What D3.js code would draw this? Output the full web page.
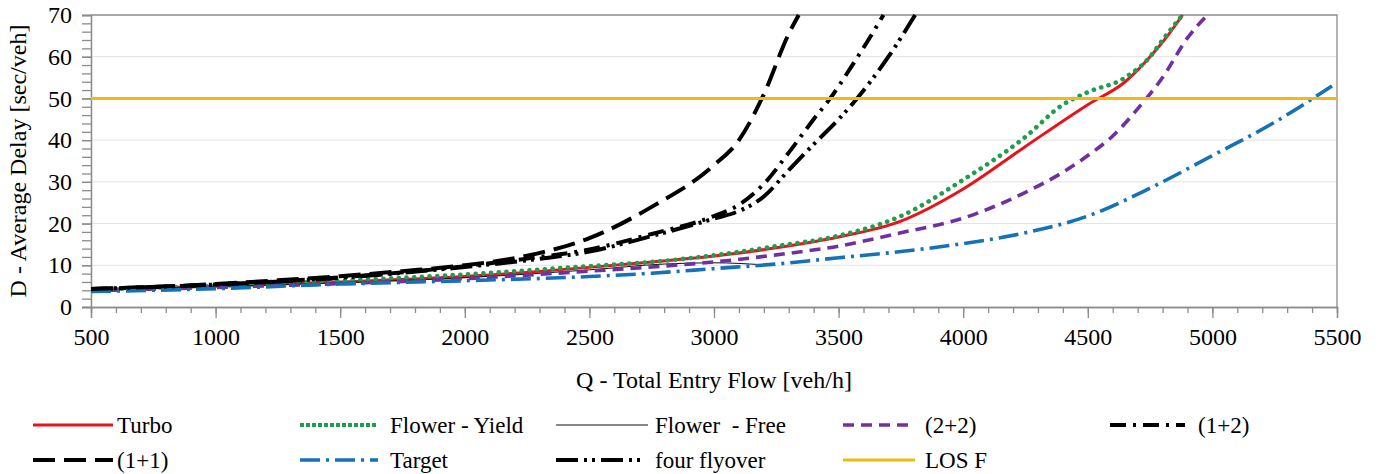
<!DOCTYPE html>
<html>
<head>
<meta charset="utf-8">
<script src="https://cdn.jsdelivr.net/npm/d3@7"></script>
<style>
  body { margin: 0; background: #fff; }
</style>
</head>
<body>
<div id="chart"></div>
<script>
// values
const turboQ = [500, 1000, 1500, 2000, 2500, 2750, 3000, 3250, 3500, 3750, 4000, 4250, 4500, 4650, 4750, 4820, 4880];
const turboD = [4.2, 5.0, 6.0, 7.3, 9.5, 10.8, 12.2, 14.2, 16.8, 20.6, 28.3, 38.5, 48.5, 54, 60, 65, 70];

const yieldQ = [500, 1000, 1500, 2000, 2500, 2750, 3000, 3250, 3500, 3750, 4000, 4250, 4400, 4500, 4650, 4750, 4800, 4880];
const yieldD = [4.2, 5.1, 6.3, 7.8, 9.8, 10.8, 12.4, 14.6, 17.1, 21.8, 30.5, 40.8, 48.5, 51.5, 55, 60, 64, 70];

const freeQ = [500, 1000, 1500, 2000, 2500, 2800, 3000, 3200];
const freeD = [4.1, 4.9, 5.8, 7.0, 8.9, 10.3, 10.6, 10.1];

const twoTwoQ = [500, 1000, 1500, 2000, 2500, 2750, 3000, 3250, 3500, 3750, 4000, 4250, 4400, 4500, 4600, 4700, 4800, 4900, 4980];
const twoTwoD = [3.9, 4.7, 5.6, 6.8, 8.6, 9.6, 10.8, 12.5, 14.6, 17.8, 21.3, 27.5, 32.3, 36.3, 41, 47.5, 55, 64.5, 70];

const oneTwoQ = [500, 1000, 1500, 2000, 2250, 2500, 2750, 3000, 3100, 3200, 3300, 3400, 3466, 3550, 3650, 3680];
const oneTwoD = [4.3, 5.4, 7.1, 9.8, 11.6, 13.8, 17.5, 21.8, 24.5, 29.5, 37, 45, 50, 57.5, 67, 70];

const oneOneQ = [500, 750, 1000, 1250, 1500, 1750, 2000, 2250, 2500, 2750, 3000, 3100, 3200, 3300, 3340];
const oneOneD = [4.3, 4.8, 5.5, 6.4, 7.4, 8.6, 10.0, 12.3, 16.5, 24.0, 34, 40, 51, 65.5, 70];

const targetQ = [500, 1000, 1500, 2000, 2500, 2750, 3000, 3250, 3500, 3750, 4000, 4250, 4500, 4750, 5000, 5250, 5480];
const targetD = [3.7, 4.4, 5.5, 6.3, 7.3, 8.1, 9.2, 10.3, 11.8, 13.3, 15.2, 17.8, 21.8, 28.5, 36.3, 44.3, 53];

const flyoverQ = [500, 1000, 1500, 2000, 2250, 2500, 2750, 3000, 3100, 3200, 3300, 3400, 3500, 3574, 3700, 3807];
const flyoverD = [4.3, 5.4, 7.0, 9.6, 11.2, 13.3, 17.0, 21.2, 23.0, 26.5, 32.8, 39, 45, 50, 60, 70];

const losQ = [500, 5500];
const losD = [50, 50];

const xTicks = [500, 1000, 1500, 2000, 2500, 3000, 3500, 4000, 4500, 5000, 5500];
const yTicks = [0, 10, 20, 30, 40, 50, 60, 70];

const width = 1381, height = 474;
const serif = "Liberation Serif, DejaVu Serif, Noto Serif, Times New Roman, Times, FreeSerif, Tinos, serif";

const svg = d3.select("#chart").append("svg")
  .attr("width", width)
  .attr("height", height)
  .style("font-family", serif);

const x = d3.scaleLinear().domain([500, 5500]).range([91, 1337]);
const y = d3.scaleLinear().domain([0, 70]).range([307, 15]);

// gridlines
svg.append("g")
  .selectAll("line")
  .data(yTicks.filter((d) => d > 0 && d < 70))
  .join("line")
  .attr("x1", x(500)).attr("x2", x(5500))
  .attr("y1", (d) => y(d)).attr("y2", (d) => y(d))
  .attr("stroke", "#e3e3e3").attr("stroke-width", 1);

// plot border top + right
svg.append("path")
  .attr("d", `M${x(500)},${y(70)}H${x(5500)}V${y(0)}`)
  .attr("fill", "none").attr("stroke", "#8c8c8c").attr("stroke-width", 1.3);

// x axis: minor then major ticks
const xAxisG = svg.append("g").attr("transform", `translate(0,${y(0)})`);
xAxisG.call(d3.axisBottom(x).tickValues(d3.range(500, 5501, 100)).tickSize(6).tickFormat(""));
xAxisG.call((g) => g.append("g").call(d3.axisBottom(x).tickValues(xTicks).tickSize(11).tickFormat(d3.format("d"))));
xAxisG.selectAll("path, line").attr("stroke", "#8c8c8c").attr("stroke-width", 1.3);
xAxisG.selectAll("text")
  .attr("y", 21)
  .style("font-size", "24px")
  .style("font-family", serif);

// y axis with minor ticks every 2
const yAxisG = svg.append("g").attr("transform", `translate(${x(500)},0)`);
yAxisG.call(d3.axisLeft(y).tickValues(d3.range(0, 71, 2)).tickSize(9).tickFormat(""));
yAxisG.call((g) => g.append("g").call(d3.axisLeft(y).tickValues(yTicks).tickSize(9).tickFormat(d3.format("d"))));
yAxisG.selectAll("path, line").attr("stroke", "#8c8c8c").attr("stroke-width", 1.3);
yAxisG.selectAll("text")
  .attr("x", -19)
  .style("font-size", "24px")
  .style("font-family", serif);

// axis titles
svg.append("text")
  .attr("x", (x(500) + x(5500)) / 2)
  .attr("y", 388)
  .attr("text-anchor", "middle")
  .style("font-size", "24px")
  .style("font-family", serif)
  .text("Q - Total Entry Flow [veh/h]");

svg.append("text")
  .attr("transform", `translate(26,${(y(0) + y(70)) / 2}) rotate(-90)`)
  .attr("text-anchor", "middle")
  .style("font-size", "24px")
  .style("font-family", serif)
  .text("D - Average Delay [sec/veh]");

// series styles
const series = [
  { name: "Turbo", q: turboQ, d: turboD, color: "#e8141b", w: 3, dash: null, cap: "butt" },
  { name: "Flower - Yield", q: yieldQ, d: yieldD, color: "#1f9e4f", w: 4.6, dash: "0.1 7.6", cap: "round" },
  { name: "Flower  - Free", q: freeQ, d: freeD, color: "#111", w: 1, dash: null, cap: "butt" },
  { name: "(2+2)", q: twoTwoQ, d: twoTwoD, color: "#7030a0", w: 3.6, dash: "11 7", cap: "butt" },
  { name: "(1+2)", q: oneTwoQ, d: oneTwoD, color: "#000", w: 4, dash: "16 7 3 7", cap: "butt" },
  { name: "(1+1)", q: oneOneQ, d: oneOneD, color: "#000", w: 4, dash: "22 9", cap: "butt" },
  { name: "Target", q: targetQ, d: targetD, color: "#1572b8", w: 3.6, dash: "20 6 3 6", cap: "butt" },
  { name: "four flyover", q: flyoverQ, d: flyoverD, color: "#000", w: 4, dash: "22 6 3 5 3 6", cap: "butt" },
  { name: "LOS F", q: losQ, d: losD, color: "#f2b90f", w: 3, dash: null, cap: "butt" },
];

svg.append("clipPath").attr("id", "plotClip")
  .append("rect")
  .attr("x", x(500)).attr("y", y(70) - 2)
  .attr("width", x(5500) - x(500) + 4).attr("height", y(0) - y(70) + 2);

const line = d3.line()
  .x((p) => x(p[0]))
  .y((p) => y(p[1]))
  .curve(d3.curveMonotoneX);

svg.append("g")
  .attr("clip-path", "url(#plotClip)")
  .selectAll("path")
  .data(series)
  .join("path")
  .attr("d", (s) => line(s.q.map((q, i) => [q, s.d[i]])))
  .attr("fill", "none")
  .attr("stroke", (s) => s.color)
  .attr("stroke-width", (s) => s.w)
  .attr("stroke-dasharray", (s) => s.dash)
  .attr("stroke-linecap", (s) => s.cap);

// legend (two rows)
const legendPos = [
  [33, 425], [300, 425], [556, 425], [843, 425], [1110, 425],
  [33, 460], [300, 460], [556, 460], [843, 460],
];
const sampleLen = [80, 78, 92, 70, 75, 80, 78, 84, 72];
const textX = [117, 390, 655, 925, 1198, 117, 390, 655, 925];

const legend = svg.append("g")
  .selectAll("g")
  .data(series)
  .join("g");

legend.append("line")
  .attr("x1", (s, i) => legendPos[i][0])
  .attr("x2", (s, i) => legendPos[i][0] + sampleLen[i])
  .attr("y1", (s, i) => legendPos[i][1])
  .attr("y2", (s, i) => legendPos[i][1])
  .attr("stroke", (s) => s.color)
  .attr("stroke-width", (s) => s.name === "Flower - Yield" ? 4 : s.w)
  .attr("stroke-dasharray", (s) => s.name === "Flower - Yield" ? "4 2" : s.dash);

legend.append("text")
  .attr("x", (s, i) => textX[i])
  .attr("y", (s, i) => legendPos[i][1])
  .attr("dy", "0.35em")
  .style("font-size", "23px")
  .style("font-family", serif)
  .style("white-space", "pre")
  .text((s) => s.name);
</script>
</body>
</html>
